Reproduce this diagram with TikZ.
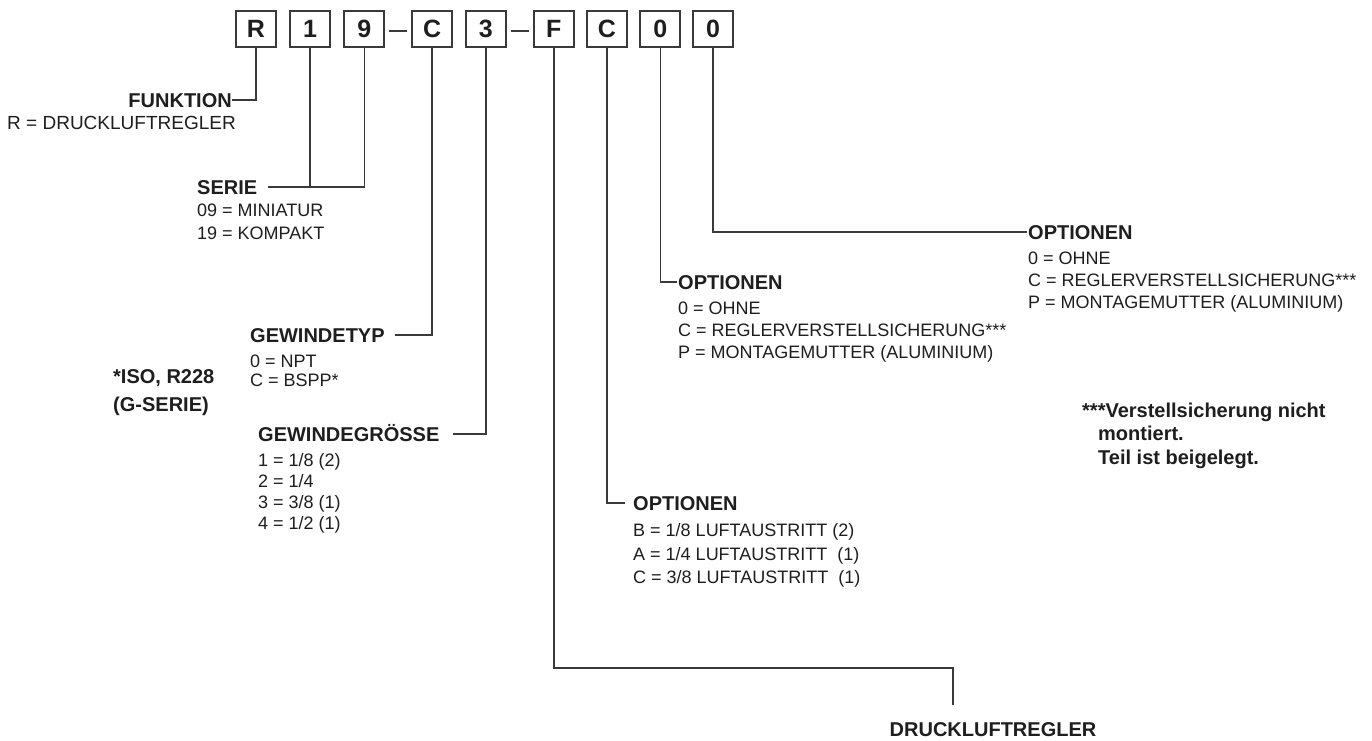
\documentclass[tikz,border=0pt]{standalone}
\usepackage{fontspec}
\setmainfont{Liberation Sans}
\usetikzlibrary{positioning}
\definecolor{linecol}{HTML}{3A3A3A}
\definecolor{txtcol}{HTML}{1E1E1E}

\begin{document}
\begin{tikzpicture}[x=1pt, y=-1pt,
    kbox/.style={draw=linecol, line width=1.8pt, minimum width=40pt, minimum height=36pt,
      inner sep=0pt, text=txtcol, font=\bfseries\fontsize{25}{25}\selectfont},
    conn/.style={draw=linecol, line width=1.6pt},
    kopf/.style={inner sep=0pt, text height=14pt, text depth=0pt, text=txtcol,
      font=\bfseries\fontsize{20}{22}\selectfont},
    liste/.style={inner sep=0pt, align=left, text=txtcol, font=\fontsize{18}{22}\selectfont},
    notiz/.style={inner sep=0pt, align=left, text=txtcol, font=\bfseries\fontsize{20}{23.5}\selectfont}]
		\fill[white] (0,0) rectangle (1372,740);
		\useasboundingbox (0,0) rectangle (1372,740);
		
		% code boxes
		\node[kbox] (b1) at (256,29) {R};
		\node[kbox, right=12.2pt of b1] (b2) {1};
		\node[kbox, right=12.5pt of b2] (b3) {9};
		\node[kbox, right=26pt of b3] (b4) {C};
		\node[kbox, right=12pt of b4] (b5) {3};
		\node[kbox, right=26pt of b5] (b6) {F};
		\node[kbox, right=11.5pt of b6] (b7) {C};
		\node[kbox, right=11.5pt of b7] (b8) {0};
		\node[kbox, right=11pt of b8] (b9) {0};
		\draw[conn] ([xshift=4pt, yshift=-2pt]b3.east) -- ([xshift=-4pt, yshift=-2pt]b4.west);
		\draw[conn] ([xshift=4pt, yshift=-2pt]b5.east) -- ([xshift=-4pt, yshift=-2pt]b6.west);
		
		% headings
		\node[kopf, anchor=east] (fkt) at (232,100) {FUNKTION};
		\node[kopf, anchor=west] (serie) at (197,187) {SERIE};
		\node[kopf, anchor=west] (gtyp) at (250,335) {GEWINDETYP};
		\node[kopf, anchor=west] (ggr) at (258,434) {GEWINDEGRÖSSE};
		\node[kopf, anchor=west] (opt1) at (633,503) {OPTIONEN};
		\node[kopf, anchor=west] (opt2) at (678,282) {OPTIONEN};
		\node[kopf, anchor=west] (opt3) at (1028,232) {OPTIONEN};
		\node[kopf] (druck) at (993,729) {DRUCKLUFTREGLER};
		
		% option lists
		\node[liste, anchor=north east, font=\fontsize{19}{22}\selectfont] (fktList) at ([xshift=4pt, yshift=-8.5pt]fkt.south east) {R = DRUCKLUFTREGLER};
		\node[liste, anchor=north west, font=\fontsize{18}{23}\selectfont] (serieList) at ([yshift=-9.5pt]serie.south west) {09 = MINIATUR\\19 = KOMPAKT};
		\node[liste, anchor=north west, font=\fontsize{18}{19}\selectfont] (gtypList) at ([yshift=-12.5pt]gtyp.south west) {0 = NPT\\C = BSPP*};
		\node[liste, anchor=north west, font=\fontsize{18}{21}\selectfont] (ggrList) at ([yshift=-12.5pt]ggr.south west) {1 = 1/8 (2)\\2 = 1/4\\3 = 3/8 (1)\\4 = 1/2 (1)};
		\node[liste, anchor=north west, font=\fontsize{18}{23.5}\selectfont] (opt1List) at ([yshift=-13.5pt]opt1.south west) {B = 1/8 LUFTAUSTRITT (2)\\A = 1/4 LUFTAUSTRITT\ \ (1)\\C = 3/8 LUFTAUSTRITT\ \ (1)};
		\node[liste, anchor=north west] (opt2List) at ([yshift=-12.5pt]opt2.south west) {0 = OHNE\\C = REGLERVERSTELLSICHERUNG***\\P = MONTAGEMUTTER (ALUMINIUM)};
		\node[liste, anchor=north west] (opt3List) at ([yshift=-12.5pt]opt3.south west) {0 = OHNE\\C = REGLERVERSTELLSICHERUNG***\\P = MONTAGEMUTTER (ALUMINIUM)};
		
		% notes
		\node[notiz, anchor=north west, font=\bfseries\fontsize{20}{28}\selectfont] (iso) at (113,369.5) {*ISO, R228\\(G-SERIE)};
		\node[notiz, anchor=north west] (fussnote) at (1082,402.5) {***Verstellsicherung nicht\\\hspace*{16pt}montiert.\\\hspace*{16pt}Teil ist beigelegt.};
		
		% connectors
		\draw[conn] (b1.south) |- (fkt.east);
		\draw[conn] (b2.south) -- (b2.south |- serie.east);
		\draw[conn] (b3.south) |- ([xshift=11pt]serie.east);
		\draw[conn] (b4.south) |- ([xshift=10pt]gtyp.east);
		\draw[conn] (b5.south) |- ([xshift=13pt]ggr.east);
		\draw[conn] (b7.south) |- ([xshift=-8pt]opt1.west);
		\draw[conn] (b8.south) |- ([xshift=-1pt]opt2.west);
		\draw[conn] (b9.south) |- ([xshift=-1pt]opt3.west);
		\coordinate (knick) at (953,668);
		\coordinate (druckEnde) at (953,705);
		\draw[conn] (b6.south) |- (knick) -- (druckEnde);
	\end{tikzpicture}
\end{document}
